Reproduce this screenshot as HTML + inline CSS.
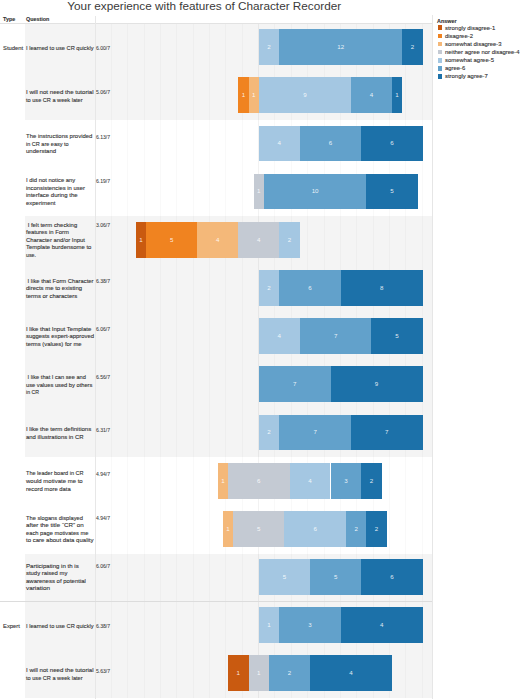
<!DOCTYPE html>
<html><head><meta charset="utf-8"><style>
*{margin:0;padding:0;box-sizing:border-box}
html,body{width:520px;height:700px;overflow:hidden;background:#fff}
body{position:relative;font-family:"Liberation Sans",sans-serif;color:#333333}
.a{position:absolute}
.t{position:absolute;white-space:pre;line-height:1;transform-origin:0 0;-webkit-text-stroke:0.12px #333}
.seg{position:absolute}
.lb{position:absolute;color:rgba(255,255,255,.88);font-size:6.2px;line-height:6px;width:20px;margin-left:-10px;text-align:center}
.g{position:absolute;width:1px;top:24px;height:674px}
</style></head><body>

<div class="a" style="left:24.8px;top:23.65px;width:407.5px;height:48.18px;background:#f4f4f4"></div>
<div class="a" style="left:24.8px;top:71.83px;width:407.5px;height:48.18px;background:#f4f4f4"></div>
<div class="a" style="left:24.8px;top:216.37px;width:407.5px;height:48.18px;background:#f4f4f4"></div>
<div class="a" style="left:24.8px;top:264.55px;width:407.5px;height:48.18px;background:#f4f4f4"></div>
<div class="a" style="left:24.8px;top:312.73px;width:407.5px;height:48.18px;background:#f4f4f4"></div>
<div class="a" style="left:24.8px;top:360.91px;width:407.5px;height:48.18px;background:#f4f4f4"></div>
<div class="a" style="left:24.8px;top:409.09px;width:407.5px;height:48.18px;background:#f4f4f4"></div>
<div class="a" style="left:24.8px;top:553.63px;width:407.5px;height:48.18px;background:#f4f4f4"></div>
<div class="a" style="left:24.8px;top:601.81px;width:407.5px;height:48.18px;background:#f4f4f4"></div>
<div class="a" style="left:24.8px;top:649.99px;width:407.5px;height:48.18px;background:#f4f4f4"></div>
<div class="g" style="left:111px;background:rgba(0,0,0,0.025)"></div>
<div class="g" style="left:127px;background:rgba(0,0,0,0.025)"></div>
<div class="g" style="left:144px;background:rgba(0,0,0,0.025)"></div>
<div class="g" style="left:160px;background:rgba(0,0,0,0.025)"></div>
<div class="g" style="left:176px;background:rgba(0,0,0,0.025)"></div>
<div class="g" style="left:193px;background:rgba(0,0,0,0.025)"></div>
<div class="g" style="left:209px;background:rgba(0,0,0,0.025)"></div>
<div class="g" style="left:225px;background:rgba(0,0,0,0.025)"></div>
<div class="g" style="left:242px;background:rgba(0,0,0,0.025)"></div>
<div class="g" style="left:258px;background:rgba(0,0,0,0.05)"></div>
<div class="g" style="left:274px;background:rgba(0,0,0,0.025)"></div>
<div class="g" style="left:291px;background:rgba(0,0,0,0.025)"></div>
<div class="g" style="left:307px;background:rgba(0,0,0,0.025)"></div>
<div class="g" style="left:324px;background:rgba(0,0,0,0.025)"></div>
<div class="g" style="left:340px;background:rgba(0,0,0,0.025)"></div>
<div class="g" style="left:356px;background:rgba(0,0,0,0.025)"></div>
<div class="g" style="left:373px;background:rgba(0,0,0,0.025)"></div>
<div class="g" style="left:389px;background:rgba(0,0,0,0.025)"></div>
<div class="g" style="left:405px;background:rgba(0,0,0,0.025)"></div>
<div class="g" style="left:422px;background:rgba(0,0,0,0.025)"></div>
<div class="a" style="left:0;top:22.8px;width:432px;height:1px;background:#e2e2e2"></div>
<div class="a" style="left:94.7px;top:16px;width:1px;height:682.5px;background:#e7e7e7"></div>
<div class="a" style="left:431.8px;top:15px;width:1px;height:683.5px;background:#e6e6e6"></div>
<div class="a" style="left:0;top:600.9px;width:432px;height:1px;background:#dcdcdc"></div>
<div class="t" style="left:67.3px;top:-0.1px;font-size:11.75px;color:#3a3a3a;-webkit-text-stroke:0">Your experience with features of Character Recorder</div>
<div class="t" style="left:2.9px;top:16.02px;font-size:6.0px;font-weight:bold;transform:scaleX(0.9)">Type</div>
<div class="t" style="left:26.3px;top:16.02px;font-size:6.0px;font-weight:bold;transform:scaleX(0.9)">Question</div>
<div class="seg" style="left:258.80px;top:29.15px;width:20.49px;height:35.75px;background:#a4c7e2"></div>
<div class="lb" style="left:269.04px;top:43.92px">2</div>
<div class="seg" style="left:279.29px;top:29.15px;width:122.93px;height:35.75px;background:#62a1cb"></div>
<div class="lb" style="left:340.75px;top:43.92px">12</div>
<div class="seg" style="left:402.21px;top:29.15px;width:20.49px;height:35.75px;background:#1c71a9"></div>
<div class="lb" style="left:412.46px;top:43.92px">2</div>
<div class="t" style="left:26.3px;top:44.89px;font-size:6.20px;transform:scaleX(0.914)">I learned to use CR quickly</div>
<div class="t" style="left:95.9px;top:46.22px;font-size:5.10px;color:#3c3c3c;-webkit-text-stroke:0.06px #3c3c3c">6.00/7</div>
<div class="t" style="left:2.8px;top:44.89px;font-size:6.20px;transform:scaleX(0.945)">Student</div>
<div class="seg" style="left:238.31px;top:77.33px;width:10.24px;height:35.75px;background:#f08320"></div>
<div class="lb" style="left:243.43px;top:92.11px">1</div>
<div class="seg" style="left:248.56px;top:77.33px;width:10.24px;height:35.75px;background:#f4b879"></div>
<div class="lb" style="left:253.68px;top:92.11px">1</div>
<div class="seg" style="left:258.80px;top:77.33px;width:92.19px;height:35.75px;background:#a4c7e2"></div>
<div class="lb" style="left:304.90px;top:92.11px">9</div>
<div class="seg" style="left:350.99px;top:77.33px;width:40.98px;height:35.75px;background:#62a1cb"></div>
<div class="lb" style="left:371.48px;top:92.11px">4</div>
<div class="seg" style="left:391.97px;top:77.33px;width:10.24px;height:35.75px;background:#1c71a9"></div>
<div class="lb" style="left:397.09px;top:92.11px">1</div>
<div class="t" style="left:26.3px;top:89.05px;font-size:6.20px;transform:scaleX(0.987)">I will not need the tutorial</div>
<div class="t" style="left:26.3px;top:96.60px;font-size:6.20px;transform:scaleX(0.904)">to use CR a week later</div>
<div class="t" style="left:95.9px;top:90.38px;font-size:5.10px;color:#3c3c3c;-webkit-text-stroke:0.06px #3c3c3c">5.06/7</div>
<div class="seg" style="left:258.80px;top:125.51px;width:40.98px;height:35.75px;background:#a4c7e2"></div>
<div class="lb" style="left:279.29px;top:140.28px">4</div>
<div class="seg" style="left:299.78px;top:125.51px;width:61.46px;height:35.75px;background:#62a1cb"></div>
<div class="lb" style="left:330.51px;top:140.28px">6</div>
<div class="seg" style="left:361.24px;top:125.51px;width:61.46px;height:35.75px;background:#1c71a9"></div>
<div class="lb" style="left:391.97px;top:140.28px">6</div>
<div class="t" style="left:26.3px;top:133.20px;font-size:6.20px;transform:scaleX(0.960)">The instructions provided</div>
<div class="t" style="left:26.3px;top:140.75px;font-size:6.20px;transform:scaleX(0.892)">in CR are easy to</div>
<div class="t" style="left:26.3px;top:148.30px;font-size:6.20px;transform:scaleX(0.974)">understand</div>
<div class="t" style="left:95.9px;top:134.53px;font-size:5.10px;color:#3c3c3c;-webkit-text-stroke:0.06px #3c3c3c">6.13/7</div>
<div class="seg" style="left:253.68px;top:173.69px;width:10.24px;height:35.75px;background:#c4cad3"></div>
<div class="lb" style="left:258.80px;top:188.47px">1</div>
<div class="seg" style="left:263.92px;top:173.69px;width:102.44px;height:35.75px;background:#62a1cb"></div>
<div class="lb" style="left:315.14px;top:188.47px">10</div>
<div class="seg" style="left:366.36px;top:173.69px;width:51.22px;height:35.75px;background:#1c71a9"></div>
<div class="lb" style="left:391.97px;top:188.47px">5</div>
<div class="t" style="left:26.3px;top:177.36px;font-size:6.20px;transform:scaleX(0.949)">I did not notice any</div>
<div class="t" style="left:26.3px;top:184.91px;font-size:6.20px;transform:scaleX(0.946)">inconsistencies in user</div>
<div class="t" style="left:26.3px;top:192.46px;font-size:6.20px;transform:scaleX(0.974)">interface during the</div>
<div class="t" style="left:26.3px;top:200.01px;font-size:6.20px;transform:scaleX(0.962)">experiment</div>
<div class="t" style="left:95.9px;top:178.69px;font-size:5.10px;color:#3c3c3c;-webkit-text-stroke:0.06px #3c3c3c">6.19/7</div>
<div class="seg" style="left:135.88px;top:221.87px;width:10.24px;height:35.75px;background:#c95a10"></div>
<div class="lb" style="left:141.00px;top:236.65px">1</div>
<div class="seg" style="left:146.12px;top:221.87px;width:51.22px;height:35.75px;background:#f08320"></div>
<div class="lb" style="left:171.73px;top:236.65px">5</div>
<div class="seg" style="left:197.34px;top:221.87px;width:40.98px;height:35.75px;background:#f4b879"></div>
<div class="lb" style="left:217.83px;top:236.65px">4</div>
<div class="seg" style="left:238.31px;top:221.87px;width:40.98px;height:35.75px;background:#c4cad3"></div>
<div class="lb" style="left:258.80px;top:236.65px">4</div>
<div class="seg" style="left:279.29px;top:221.87px;width:20.49px;height:35.75px;background:#a4c7e2"></div>
<div class="lb" style="left:289.53px;top:236.65px">2</div>
<div class="t" style="left:26.3px;top:221.51px;font-size:6.20px;transform:scaleX(0.954)"> I felt term checking</div>
<div class="t" style="left:26.3px;top:229.06px;font-size:6.20px;transform:scaleX(0.953)">features in Form</div>
<div class="t" style="left:26.3px;top:236.61px;font-size:6.20px;transform:scaleX(0.951)">Character and/or Input</div>
<div class="t" style="left:26.3px;top:244.16px;font-size:6.20px;transform:scaleX(0.960)">Template burdensome to</div>
<div class="t" style="left:26.3px;top:251.71px;font-size:6.20px;transform:scaleX(0.853)">use.</div>
<div class="t" style="left:95.9px;top:222.84px;font-size:5.10px;color:#3c3c3c;-webkit-text-stroke:0.06px #3c3c3c">3.06/7</div>
<div class="seg" style="left:258.80px;top:270.05px;width:20.49px;height:35.75px;background:#a4c7e2"></div>
<div class="lb" style="left:269.04px;top:284.82px">2</div>
<div class="seg" style="left:279.29px;top:270.05px;width:61.46px;height:35.75px;background:#62a1cb"></div>
<div class="lb" style="left:310.02px;top:284.82px">6</div>
<div class="seg" style="left:340.75px;top:270.05px;width:81.95px;height:35.75px;background:#1c71a9"></div>
<div class="lb" style="left:381.73px;top:284.82px">8</div>
<div class="t" style="left:26.3px;top:277.74px;font-size:6.20px;transform:scaleX(0.943)"> I like that Form Character</div>
<div class="t" style="left:26.3px;top:285.29px;font-size:6.20px;transform:scaleX(0.965)">directs me to existing</div>
<div class="t" style="left:26.3px;top:292.84px;font-size:6.20px;transform:scaleX(0.961)">terms or characters</div>
<div class="t" style="left:95.9px;top:279.07px;font-size:5.10px;color:#3c3c3c;-webkit-text-stroke:0.06px #3c3c3c">6.38/7</div>
<div class="seg" style="left:258.80px;top:318.23px;width:40.98px;height:35.75px;background:#a4c7e2"></div>
<div class="lb" style="left:279.29px;top:333.00px">4</div>
<div class="seg" style="left:299.78px;top:318.23px;width:71.71px;height:35.75px;background:#62a1cb"></div>
<div class="lb" style="left:335.63px;top:333.00px">7</div>
<div class="seg" style="left:371.48px;top:318.23px;width:51.22px;height:35.75px;background:#1c71a9"></div>
<div class="lb" style="left:397.09px;top:333.00px">5</div>
<div class="t" style="left:26.3px;top:325.92px;font-size:6.20px;transform:scaleX(0.975)">I like that Input Template</div>
<div class="t" style="left:26.3px;top:333.47px;font-size:6.20px;transform:scaleX(0.951)">suggests expert-approved</div>
<div class="t" style="left:26.3px;top:341.02px;font-size:6.20px;transform:scaleX(0.951)">terms (values) for me</div>
<div class="t" style="left:95.9px;top:327.25px;font-size:5.10px;color:#3c3c3c;-webkit-text-stroke:0.06px #3c3c3c">6.06/7</div>
<div class="seg" style="left:258.80px;top:366.41px;width:71.71px;height:35.75px;background:#62a1cb"></div>
<div class="lb" style="left:294.65px;top:381.18px">7</div>
<div class="seg" style="left:330.51px;top:366.41px;width:92.19px;height:35.75px;background:#1c71a9"></div>
<div class="lb" style="left:376.60px;top:381.18px">9</div>
<div class="t" style="left:26.3px;top:374.10px;font-size:6.20px;transform:scaleX(0.916)"> I like that I can see and</div>
<div class="t" style="left:26.3px;top:381.65px;font-size:6.20px;transform:scaleX(0.923)">use values used by others</div>
<div class="t" style="left:26.3px;top:389.20px;font-size:6.20px;transform:scaleX(0.832)">in CR</div>
<div class="t" style="left:95.9px;top:375.43px;font-size:5.10px;color:#3c3c3c;-webkit-text-stroke:0.06px #3c3c3c">6.56/7</div>
<div class="seg" style="left:258.80px;top:414.59px;width:20.49px;height:35.75px;background:#a4c7e2"></div>
<div class="lb" style="left:269.04px;top:429.36px">2</div>
<div class="seg" style="left:279.29px;top:414.59px;width:71.71px;height:35.75px;background:#62a1cb"></div>
<div class="lb" style="left:315.14px;top:429.36px">7</div>
<div class="seg" style="left:350.99px;top:414.59px;width:71.71px;height:35.75px;background:#1c71a9"></div>
<div class="lb" style="left:386.85px;top:429.36px">7</div>
<div class="t" style="left:26.3px;top:426.31px;font-size:6.20px;transform:scaleX(0.978)">I like the term definitions</div>
<div class="t" style="left:26.3px;top:433.86px;font-size:6.20px;transform:scaleX(0.957)">and illustrations in CR</div>
<div class="t" style="left:95.9px;top:427.64px;font-size:5.10px;color:#3c3c3c;-webkit-text-stroke:0.06px #3c3c3c">6.31/7</div>
<div class="seg" style="left:217.83px;top:462.77px;width:10.24px;height:35.75px;background:#f4b879"></div>
<div class="lb" style="left:222.95px;top:477.54px">1</div>
<div class="seg" style="left:228.07px;top:462.77px;width:61.46px;height:35.75px;background:#c4cad3"></div>
<div class="lb" style="left:258.80px;top:477.54px">6</div>
<div class="seg" style="left:289.53px;top:462.77px;width:40.98px;height:35.75px;background:#a4c7e2"></div>
<div class="lb" style="left:310.02px;top:477.54px">4</div>
<div class="seg" style="left:330.51px;top:462.77px;width:30.73px;height:35.75px;background:#62a1cb"></div>
<div class="lb" style="left:345.87px;top:477.54px">3</div>
<div class="seg" style="left:361.24px;top:462.77px;width:20.49px;height:35.75px;background:#1c71a9"></div>
<div class="lb" style="left:371.48px;top:477.54px">2</div>
<div class="t" style="left:26.3px;top:470.46px;font-size:6.20px;transform:scaleX(0.895)">The leader board in CR</div>
<div class="t" style="left:26.3px;top:478.01px;font-size:6.20px;transform:scaleX(0.970)">would motivate me to</div>
<div class="t" style="left:26.3px;top:485.56px;font-size:6.20px;transform:scaleX(0.949)">record more data</div>
<div class="t" style="left:95.9px;top:471.79px;font-size:5.10px;color:#3c3c3c;-webkit-text-stroke:0.06px #3c3c3c">4.94/7</div>
<div class="seg" style="left:222.95px;top:510.95px;width:10.24px;height:35.75px;background:#f4b879"></div>
<div class="lb" style="left:228.07px;top:525.73px">1</div>
<div class="seg" style="left:233.19px;top:510.95px;width:51.22px;height:35.75px;background:#c4cad3"></div>
<div class="lb" style="left:258.80px;top:525.73px">5</div>
<div class="seg" style="left:284.41px;top:510.95px;width:61.46px;height:35.75px;background:#a4c7e2"></div>
<div class="lb" style="left:315.14px;top:525.73px">6</div>
<div class="seg" style="left:345.87px;top:510.95px;width:20.49px;height:35.75px;background:#62a1cb"></div>
<div class="lb" style="left:356.12px;top:525.73px">2</div>
<div class="seg" style="left:366.36px;top:510.95px;width:20.49px;height:35.75px;background:#1c71a9"></div>
<div class="lb" style="left:376.60px;top:525.73px">2</div>
<div class="t" style="left:26.3px;top:514.62px;font-size:6.20px;transform:scaleX(0.924)">The slogans displayed</div>
<div class="t" style="left:26.3px;top:522.17px;font-size:6.20px;transform:scaleX(1.003)">after the title “CR” on</div>
<div class="t" style="left:26.3px;top:529.72px;font-size:6.20px;transform:scaleX(0.928)">each page motivates me</div>
<div class="t" style="left:26.3px;top:537.27px;font-size:6.20px;transform:scaleX(0.971)">to care about data quality</div>
<div class="t" style="left:95.9px;top:515.95px;font-size:5.10px;color:#3c3c3c;-webkit-text-stroke:0.06px #3c3c3c">4.94/7</div>
<div class="seg" style="left:258.80px;top:559.13px;width:51.22px;height:35.75px;background:#a4c7e2"></div>
<div class="lb" style="left:284.41px;top:573.90px">5</div>
<div class="seg" style="left:310.02px;top:559.13px;width:51.22px;height:35.75px;background:#62a1cb"></div>
<div class="lb" style="left:335.63px;top:573.90px">5</div>
<div class="seg" style="left:361.24px;top:559.13px;width:61.46px;height:35.75px;background:#1c71a9"></div>
<div class="lb" style="left:391.97px;top:573.90px">6</div>
<div class="t" style="left:26.3px;top:562.80px;font-size:6.20px;transform:scaleX(0.982)">Participating in th is</div>
<div class="t" style="left:26.3px;top:570.35px;font-size:6.20px;transform:scaleX(0.954)">study raised my</div>
<div class="t" style="left:26.3px;top:577.90px;font-size:6.20px;transform:scaleX(0.967)">awareness of potential</div>
<div class="t" style="left:26.3px;top:585.45px;font-size:6.20px;transform:scaleX(1.024)">variation</div>
<div class="t" style="left:95.9px;top:564.13px;font-size:5.10px;color:#3c3c3c;-webkit-text-stroke:0.06px #3c3c3c">6.06/7</div>
<div class="seg" style="left:258.80px;top:607.31px;width:20.49px;height:35.75px;background:#a4c7e2"></div>
<div class="lb" style="left:269.04px;top:622.08px">1</div>
<div class="seg" style="left:279.29px;top:607.31px;width:61.46px;height:35.75px;background:#62a1cb"></div>
<div class="lb" style="left:310.02px;top:622.08px">3</div>
<div class="seg" style="left:340.75px;top:607.31px;width:81.95px;height:35.75px;background:#1c71a9"></div>
<div class="lb" style="left:381.73px;top:622.08px">4</div>
<div class="t" style="left:26.3px;top:623.05px;font-size:6.20px;transform:scaleX(0.914)">I learned to use CR quickly</div>
<div class="t" style="left:95.9px;top:624.38px;font-size:5.10px;color:#3c3c3c;-webkit-text-stroke:0.06px #3c3c3c">6.38/7</div>
<div class="t" style="left:2.8px;top:623.05px;font-size:6.20px;transform:scaleX(0.945)">Expert</div>
<div class="seg" style="left:228.07px;top:655.49px;width:20.49px;height:35.75px;background:#c95a10"></div>
<div class="lb" style="left:238.31px;top:670.26px">1</div>
<div class="seg" style="left:248.56px;top:655.49px;width:20.49px;height:35.75px;background:#c4cad3"></div>
<div class="lb" style="left:258.80px;top:670.26px">1</div>
<div class="seg" style="left:269.04px;top:655.49px;width:40.98px;height:35.75px;background:#62a1cb"></div>
<div class="lb" style="left:289.53px;top:670.26px">2</div>
<div class="seg" style="left:310.02px;top:655.49px;width:81.95px;height:35.75px;background:#1c71a9"></div>
<div class="lb" style="left:350.99px;top:670.26px">4</div>
<div class="t" style="left:26.3px;top:667.21px;font-size:6.20px;transform:scaleX(0.987)">I will not need the tutorial</div>
<div class="t" style="left:26.3px;top:674.76px;font-size:6.20px;transform:scaleX(0.904)">to use CR a week later</div>
<div class="t" style="left:95.9px;top:668.54px;font-size:5.10px;color:#3c3c3c;-webkit-text-stroke:0.06px #3c3c3c">5.63/7</div>
<div class="t" style="left:437.1px;top:18.63px;font-size:5.4px;font-weight:bold">Answer</div>
<div class="a" style="left:437.7px;top:25.40px;width:4.8px;height:4.8px;background:#c95a10"></div>
<div class="t" style="left:444.8px;top:24.72px;font-size:6.0px;transform:scaleX(0.985)">strongly disagree-1</div>
<div class="a" style="left:437.7px;top:33.50px;width:4.8px;height:4.8px;background:#f08320"></div>
<div class="t" style="left:444.8px;top:32.82px;font-size:6.0px;transform:scaleX(0.985)">disagree-2</div>
<div class="a" style="left:437.7px;top:41.60px;width:4.8px;height:4.8px;background:#f4b879"></div>
<div class="t" style="left:444.8px;top:40.92px;font-size:6.0px;transform:scaleX(0.985)">somewhat disagree-3</div>
<div class="a" style="left:437.7px;top:49.70px;width:4.8px;height:4.8px;background:#c4cad3"></div>
<div class="t" style="left:444.8px;top:49.02px;font-size:6.0px;transform:scaleX(0.985)">neither agree nor disagree-4</div>
<div class="a" style="left:437.7px;top:57.80px;width:4.8px;height:4.8px;background:#a4c7e2"></div>
<div class="t" style="left:444.8px;top:57.12px;font-size:6.0px;transform:scaleX(0.985)">somewhat agree-5</div>
<div class="a" style="left:437.7px;top:65.90px;width:4.8px;height:4.8px;background:#62a1cb"></div>
<div class="t" style="left:444.8px;top:65.22px;font-size:6.0px;transform:scaleX(0.985)">agree-6</div>
<div class="a" style="left:437.7px;top:74.00px;width:4.8px;height:4.8px;background:#1c71a9"></div>
<div class="t" style="left:444.8px;top:73.32px;font-size:6.0px;transform:scaleX(0.985)">strongly agree-7</div>
</body></html>
